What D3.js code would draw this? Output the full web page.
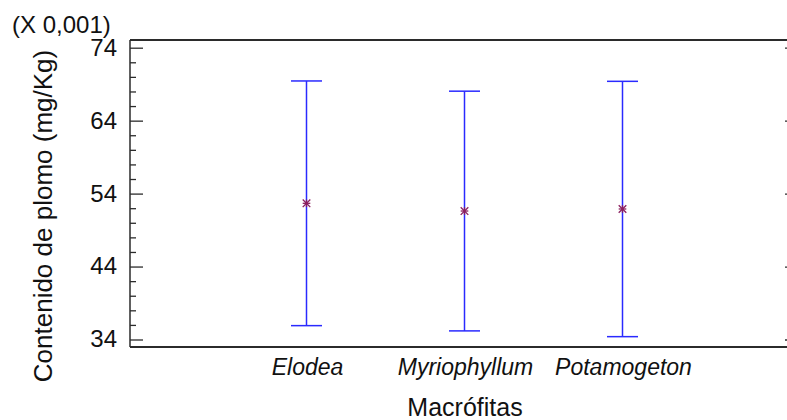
<!DOCTYPE html>
<html>
<head>
<meta charset="utf-8">
<script src="https://cdn.jsdelivr.net/npm/d3@7"></script>
<style>
  html, body { margin: 0; padding: 0; background: #fff; overflow: hidden; width: 787px; height: 420px; }
  svg { display: block; font-family: "Liberation Sans", Arial, sans-serif; }
</style>
</head>
<body>
<svg id="chart" width="787" height="420"></svg>
<script>
// Lead content by macrophyte (values in units of 0.001 mg/Kg)
const categories = ["Elodea", "Myriophyllum", "Potamogeton"];
const means = [52.67, 51.61, 51.89];
const lower = [35.9, 35.18, 34.39];
const upper = [69.44, 68.04, 69.39];
const yTicks = [34, 44, 54, 64, 74];
const yMinorTicks = [36, 38, 40, 42, 46, 48, 50, 52, 56, 58, 60, 62, 66, 68, 70, 72];

const W = 787;
const svg = d3.select("#chart");
const frame = { left: 130, top: 40, bottom: 347 };

const x = d3.scalePoint().domain(categories).range([306.5, 622.5]);
const y = d3.scaleLinear().domain([34, 74]).range([339.5, 47.7]);

const axisColor = "#2b2b2b";

// Plot frame: top, bottom and left edges (the right edge lies past the canvas)
const frameG = svg.append("g").attr("stroke", axisColor).attr("fill", "none");
frameG.append("line").attr("x1", frame.left).attr("x2", W).attr("y1", frame.top).attr("y2", frame.top).attr("stroke-width", 2);
frameG.append("line").attr("x1", frame.left).attr("x2", W).attr("y1", frame.bottom).attr("y2", frame.bottom).attr("stroke-width", 2);
frameG.append("line").attr("x1", frame.left).attr("x2", frame.left).attr("y1", frame.top).attr("y2", frame.bottom).attr("stroke-width", 1.5);

// Left axis: major ticks, minor ticks inward
const leftAxis = d3.axisRight(y).tickValues(yTicks).tickSize(13).tickFormat("");
const gl = svg.append("g").attr("transform", `translate(${frame.left},0)`).call(leftAxis);
gl.select(".domain").remove();
gl.selectAll(".tick line").attr("stroke", axisColor).attr("stroke-width", 1.3);

const leftMinor = d3.axisRight(y).tickValues(yMinorTicks).tickSize(6).tickFormat("");
const glm = svg.append("g").attr("transform", `translate(${frame.left},0)`).call(leftMinor);
glm.select(".domain").remove();
glm.selectAll(".tick line").attr("stroke", axisColor).attr("stroke-width", 1.3);

// Right axis ticks: only their inner ends reach the canvas edge
const rightAxis = d3.axisLeft(y).tickValues(yTicks).tickSize(2).tickFormat("");
const gr = svg.append("g").attr("transform", `translate(${W},0)`).call(rightAxis);
gr.select(".domain").remove();
gr.selectAll(".tick line").attr("stroke", axisColor).attr("stroke-width", 1.3);

// Y tick labels
svg.append("g").selectAll("text").data(yTicks).join("text")
  .attr("x", 117).attr("y", d => y(d)).attr("dy", "0.33em")
  .attr("text-anchor", "end").attr("font-size", 24).attr("fill", "#111")
  .text(d => d);

// Scale factor note
svg.append("text").attr("x", 12).attr("y", 33)
  .attr("font-size", 24).attr("fill", "#111").text("(X 0,001)");

// Y axis title
svg.append("text")
  .attr("transform", "translate(52,216) rotate(-90)")
  .attr("text-anchor", "middle").attr("font-size", 26).attr("fill", "#111")
  .text("Contenido de plomo (mg/Kg)");

// Category labels
svg.append("g").selectAll("text").data(categories).join("text")
  .attr("x", d => x(d) + 1).attr("y", 375)
  .attr("text-anchor", "middle").attr("font-size", 23).attr("font-style", "italic")
  .attr("fill", "#111").text(d => d);

// X axis title
svg.append("text").attr("x", 465).attr("y", 416)
  .attr("text-anchor", "middle").attr("font-size", 25).attr("fill", "#111")
  .text("Macrófitas");

// Interval bars
const data = categories.map((c, i) => ({ c, m: means[i], lo: lower[i], hi: upper[i] }));
const barColor = "#2a2aff";
const capHalf = 15.5;
const bars = svg.append("g").selectAll("g").data(data).join("g");
bars.append("line")
  .attr("x1", d => x(d.c)).attr("x2", d => x(d.c))
  .attr("y1", d => y(d.hi)).attr("y2", d => y(d.lo))
  .attr("stroke", barColor).attr("stroke-width", 1.5);
bars.append("line")
  .attr("x1", d => x(d.c) - capHalf).attr("x2", d => x(d.c) + capHalf)
  .attr("y1", d => y(d.hi)).attr("y2", d => y(d.hi))
  .attr("stroke", barColor).attr("stroke-width", 1.5);
bars.append("line")
  .attr("x1", d => x(d.c) - capHalf).attr("x2", d => x(d.c) + capHalf)
  .attr("y1", d => y(d.lo)).attr("y2", d => y(d.lo))
  .attr("stroke", barColor).attr("stroke-width", 1.5);

// Mean markers (asterisks)
const r = 3.8;
const marks = bars.append("g")
  .attr("transform", d => `translate(${x(d.c)},${y(d.m)})`)
  .attr("stroke", "#8a1e5e").attr("stroke-width", 1.3);
marks.append("line").attr("x1", -r).attr("x2", r).attr("y1", -r).attr("y2", r);
marks.append("line").attr("x1", -r).attr("x2", r).attr("y1", r).attr("y2", -r);
marks.append("line").attr("x1", -r).attr("x2", r).attr("y1", 0).attr("y2", 0);
marks.append("line").attr("x1", 0).attr("x2", 0).attr("y1", -r).attr("y2", r);
</script>
</body>
</html>
